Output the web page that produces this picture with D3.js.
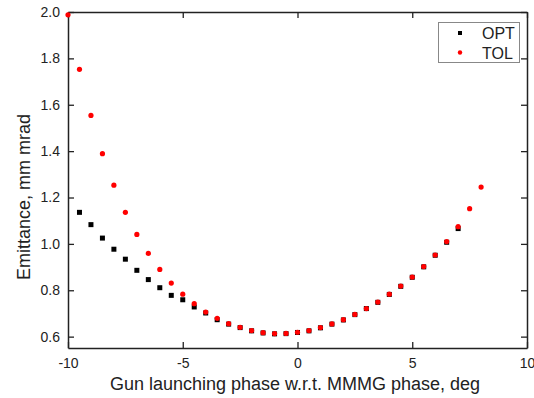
<!DOCTYPE html>
<html>
<head>
<meta charset="utf-8">
<script src="https://cdn.jsdelivr.net/npm/d3@7"></script>
<style>
	body { margin: 0; background: #fff; }
	svg { display: block; font-family: "Liberation Sans", Arial, sans-serif; }
</style>
</head>
<body>
<svg width="534" height="398"></svg>
<script>
// phase in deg
var optPhase = [-9.5,-9,-8.5,-8,-7.5,-7,-6.5,-6,-5.5,-5,-4.5,-4,-3.5,-3,-2.5,-2,-1.5,-1,-0.5,0,0.5,1,1.5,2,2.5,3,3.5,4,4.5,5,5.5,6,6.5,7];
var optEmit = [1.136,1.083,1.025,0.977,0.934,0.886,0.846,0.811,0.778,0.759,0.728,0.702,0.673,0.654,0.639,0.625,0.616,0.612,0.613,0.618,0.625,0.638,0.654,0.672,0.695,0.721,0.748,0.782,0.817,0.856,0.901,0.951,1.007,1.066];

var tolPhase = [-10,-9.5,-9,-8.5,-8,-7.5,-7,-6.5,-6,-5.5,-5,-4.5,-4,-3.5,-3,-2.5,-2,-1.5,-1,-0.5,0,0.5,1,1.5,2,2.5,3,3.5,4,4.5,5,5.5,6,6.5,7,7.5,8];
var tolEmit = [1.988,1.753,1.554,1.389,1.253,1.136,1.041,0.959,0.890,0.831,0.783,0.742,0.706,0.679,0.656,0.640,0.626,0.617,0.613,0.614,0.619,0.626,0.639,0.655,0.673,0.696,0.721,0.749,0.783,0.818,0.857,0.902,0.952,1.010,1.074,1.152,1.245];

var xTicks = [-10,-5,0,5,10];
var yTicks = [0.6,0.8,1.0,1.2,1.4,1.6,1.8,2.0];

var legendNames = ['OPT','TOL'];

window.chart = {};

chart.box = { left: 68, right: 527, top: 12, bottom: 348 };

chart.make = function(){

	var svg = d3.select('svg');
	var b = chart.box;

	var x = d3.scaleLinear().domain([-10,10]).range([b.left,b.right]);
	var y = d3.scaleLinear().domain([0.551,2.0]).range([b.bottom,b.top]);

	//axes, ticks pointing inward
	var fmt = d3.format('.1f');
	var axisStyle = function(g){
		g.select('.domain').attr('stroke','#222').attr('stroke-width',1.5);
		g.selectAll('.tick line').attr('stroke','#222').attr('stroke-width',1.3);
		g.selectAll('.tick text').attr('fill','#222').style('font-size','14px').style('font-family','"Liberation Sans", Arial, sans-serif');
	};

	svg.append('g')
		.attr('transform','translate(0,'+b.bottom+')')
		.call(d3.axisBottom(x).tickValues(xTicks).tickSize(-6).tickPadding(10).tickFormat(function(d){ return String(d); }).tickSizeOuter(0))
		.call(axisStyle);

	svg.append('g')
		.attr('transform','translate(0,'+b.top+')')
		.call(d3.axisTop(x).tickValues(xTicks).tickSize(-6).tickFormat('').tickSizeOuter(0))
		.call(axisStyle);

	svg.append('g')
		.attr('transform','translate('+b.left+',0)')
		.call(d3.axisLeft(y).tickValues(yTicks).tickSize(-6).tickPadding(8).tickFormat(fmt).tickSizeOuter(0))
		.call(axisStyle);

	svg.append('g')
		.attr('transform','translate('+b.right+',0)')
		.call(d3.axisRight(y).tickValues(yTicks).tickSize(-6).tickFormat('').tickSizeOuter(0))
		.call(axisStyle);

	//axis titles
	svg.append('text')
		.attr('x', 295)
		.attr('y', 390)
		.attr('text-anchor','middle')
		.attr('fill','#222')
		.style('font-size','18px')
		.text('Gun launching phase w.r.t. MMMG phase, deg');

	svg.append('text')
		.attr('transform','translate(30,197) rotate(-90)')
		.attr('text-anchor','middle')
		.attr('fill','#222')
		.style('font-size','18px')
		.text('Emittance, mm mrad');

	//data
	var opt = optPhase.map(function(p,i){ return { p: p, e: optEmit[i] }; });
	var tol = tolPhase.map(function(p,i){ return { p: p, e: tolEmit[i] }; });

	svg.append('g').selectAll('rect')
		.data(opt)
		.enter()
		.append('rect')
		.attr('x', function(d){ return x(d.p)-2.5; })
		.attr('y', function(d){ return y(d.e)-2.5; })
		.attr('width',5)
		.attr('height',5)
		.attr('fill','#000');

	svg.append('g').selectAll('circle')
		.data(tol)
		.enter()
		.append('circle')
		.attr('cx', function(d){ return x(d.p); })
		.attr('cy', function(d){ return y(d.e); })
		.attr('r',2.6)
		.attr('fill','#ff0000');

	//legend
	var lg = svg.append('g');
	lg.append('rect')
		.attr('x',438.5).attr('y',22.5)
		.attr('width',81).attr('height',40)
		.attr('fill','#fff')
		.attr('stroke','#888')
		.attr('stroke-width',1);

	lg.selectAll('text')
		.data(legendNames)
		.enter()
		.append('text')
		.attr('x',482)
		.attr('y', function(d,i){ return 39 + i*19.5; })
		.attr('fill','#222')
		.style('font-size','16px')
		.text(function(d){ return d; });

	lg.append('rect').attr('x',458).attr('y',31).attr('width',4).attr('height',4).attr('fill','#000');
	lg.append('circle').attr('cx',460).attr('cy',52.5).attr('r',2.2).attr('fill','#ff0000');
};

chart.make();
</script>
</body>
</html>
